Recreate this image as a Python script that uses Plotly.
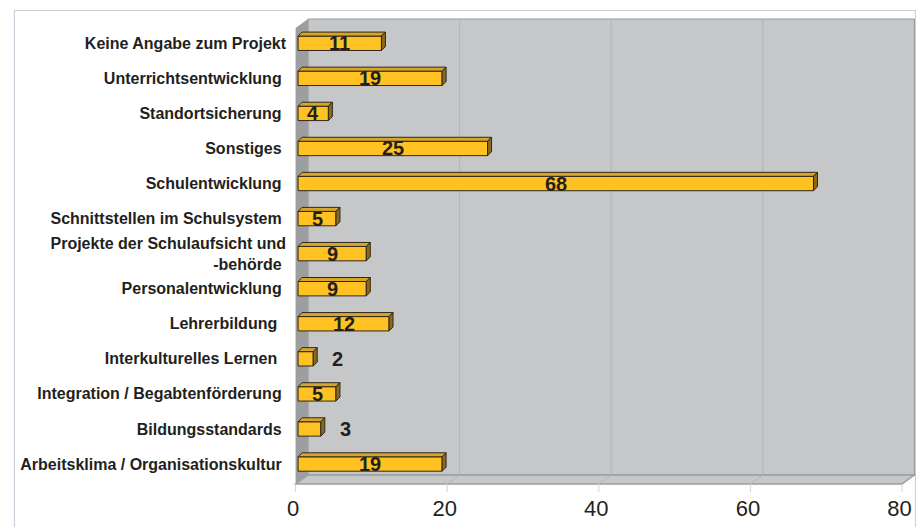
import plotly.graph_objects as go

# ---------------- data ----------------
categories = [
    "Arbeitsklima / Organisationskultur",
    "Bildungsstandards",
    "Integration / Begabtenförderung",
    "Interkulturelles Lernen",
    "Lehrerbildung",
    "Personalentwicklung",
    "Projekte der Schulaufsicht und<br>-behörde",
    "Schnittstellen im Schulsystem",
    "Schulentwicklung",
    "Sonstiges",
    "Standortsicherung",
    "Unterrichtsentwicklung",
    "Keine Angabe zum Projekt",
]
values = [19, 3, 5, 2, 12, 9, 9, 5, 68, 25, 4, 19, 11]
label_pad = [1, 1, 1, 2, 2, 1, 1, 1, 1, 1, 1, 1, 0]  # trailing spaces in original labels
x_ticks = [0, 20, 40, 60, 80]

# ---------------- layout constants (pixels) ----------------
W, H = 916, 527
X0_PX, PXX = 294.0, 7.63      # bar plane: x=0 position, px per unit
Y0_PX, PXY = 464.0, 35.06     # bottom category centre, px per category
DL, DR = 289.0, 916.0         # x domain in px
DT, DB = 12.0, 492.0          # y domain in px (from top)
FRONT_DX, BACK_DX = -2.5, 10.0
FLOOR_FRONT, FLOOR_BACK = 484.0, 475.0
WALL_TOP_BACK, WALL_TOP_FRONT = 19.0, 28.0
DEPTH = 4.0                   # bar depth px
BW = 0.41                     # bar thickness (category fraction)

def xd(px):
    return (px - X0_PX) / PXX

def yd(py):
    return (Y0_PX - py) / PXY

def fx(v):
    return v + FRONT_DX / PXX

def bx(v):
    return v + BACK_DX / PXX

X_MAX = x_ticks[-1]
idx = list(range(len(categories)))
ticktext = [c + "\u00a0" * p for c, p in zip(categories, label_pad)]

TXT = "#231f20"
shapes = []
# back wall
shapes.append(dict(type="rect", xref="x", yref="y", layer="below",
                   x0=bx(0), x1=bx(X_MAX), y0=yd(FLOOR_BACK), y1=yd(WALL_TOP_BACK),
                   fillcolor="#c6c7c9", line=dict(color="#9c9d9f", width=1.2)))
# grid lines on back wall and floor
for v in x_ticks[1:-1]:
    shapes.append(dict(type="line", xref="x", yref="y", layer="below",
                       x0=bx(v), x1=bx(v), y0=yd(FLOOR_BACK), y1=yd(WALL_TOP_BACK),
                       line=dict(color="#b3b4b6", width=1)))
# floor
shapes.append(dict(type="path", xref="x", yref="y", layer="below",
                   path=f"M {fx(0)},{yd(FLOOR_FRONT)} L {bx(0)},{yd(FLOOR_BACK)} "
                        f"L {bx(X_MAX)},{yd(FLOOR_BACK)} L {fx(X_MAX)},{yd(FLOOR_FRONT)} Z",
                   fillcolor="#c6c7c9", line=dict(color="#9c9d9f", width=1.5)))
for v in x_ticks[1:-1]:
    shapes.append(dict(type="line", xref="x", yref="y", layer="below",
                       x0=fx(v), x1=bx(v), y0=yd(FLOOR_FRONT), y1=yd(FLOOR_BACK),
                       line=dict(color="#b3b4b6", width=1)))
# left wall
shapes.append(dict(type="path", xref="x", yref="y", layer="below",
                   path=f"M {fx(0)},{yd(FLOOR_FRONT)} L {bx(0)},{yd(FLOOR_BACK)} "
                        f"L {bx(0)},{yd(WALL_TOP_BACK)} L {fx(0)},{yd(WALL_TOP_FRONT)} Z",
                   fillcolor="#9d9ea0", line=dict(width=0)))
# tick marks below the floor
for v in x_ticks:
    shapes.append(dict(type="line", xref="x", yref="y", layer="below",
                       x0=fx(v), x1=fx(v), y0=yd(FLOOR_FRONT), y1=yd(FLOOR_FRONT + 8),
                       line=dict(color="#d4d4d4", width=1)))

# 3D faces of bars
dX, dY = DEPTH / PXX, DEPTH / PXY
OUT = "#2e281c"
for i, v in zip(idx, values):
    yt, yb = i + BW / 2, i - BW / 2
    shapes.append(dict(type="path", xref="x", yref="y", layer="above",
                       path=f"M 0,{yt} L {dX},{yt + dY} L {v + dX},{yt + dY} L {v},{yt} Z",
                       fillcolor="#d6a52a", line=dict(color=OUT, width=1)))
    shapes.append(dict(type="path", xref="x", yref="y", layer="above",
                       path=f"M {v},{yt} L {v + dX},{yt + dY} L {v + dX},{yb + dY} L {v},{yb} Z",
                       fillcolor="#8c6a1a", line=dict(color=OUT, width=1)))

# outer frame
shapes.append(dict(type="rect", xref="paper", yref="paper", layer="below",
                   x0=8.5 / W, x1=915.5 / W, y0=-0.2, y1=1 - 10.5 / H,
                   fillcolor="rgba(0,0,0,0)", line=dict(color="#c8d1d9", width=1.2)))

# value labels
annotations = []
for i, v in zip(idx, values):
    inside = v * PXX >= 25
    annotations.append(dict(
        x=v / 2 if inside else v, y=i, xref="x", yref="y",
        text=str(v), showarrow=False,
        xanchor="center" if inside else "left",
        xshift=0 if inside else 17, yshift=0,
        font=dict(family="Liberation Sans, Arial, sans-serif", size=20, color=TXT, weight="bold"),
    ))

fig = go.Figure(go.Bar(
    x=values, y=idx, orientation="h", width=BW,
    marker=dict(color="#ffc222", line=dict(color=OUT, width=1)),
    hoverinfo="skip",
))

fig.update_layout(
    width=W, height=H,
    margin=dict(l=0, r=0, t=0, b=0),
    paper_bgcolor="white", plot_bgcolor="rgba(0,0,0,0)",
    showlegend=False,
    shapes=shapes, annotations=annotations,
    font=dict(family="Liberation Sans, Arial, sans-serif", color=TXT),
    xaxis=dict(domain=[DL / W, DR / W], range=[xd(DL), xd(DR)],
               tickvals=x_ticks, showgrid=False, zeroline=False, showline=False,
               ticks="", ticklabelshift=-5, ticklabelstandoff=1,
               tickfont=dict(size=22, color=TXT)),
    yaxis=dict(domain=[1 - DB / H, 1 - DT / H], range=[yd(DB), yd(DT)],
               tickvals=idx, ticktext=ticktext, showgrid=False, zeroline=False,
               showline=False, ticks="", ticklabelstandoff=6,
               tickfont=dict(size=16, color=TXT, weight="bold")),
)

fig.write_html("out.html")
